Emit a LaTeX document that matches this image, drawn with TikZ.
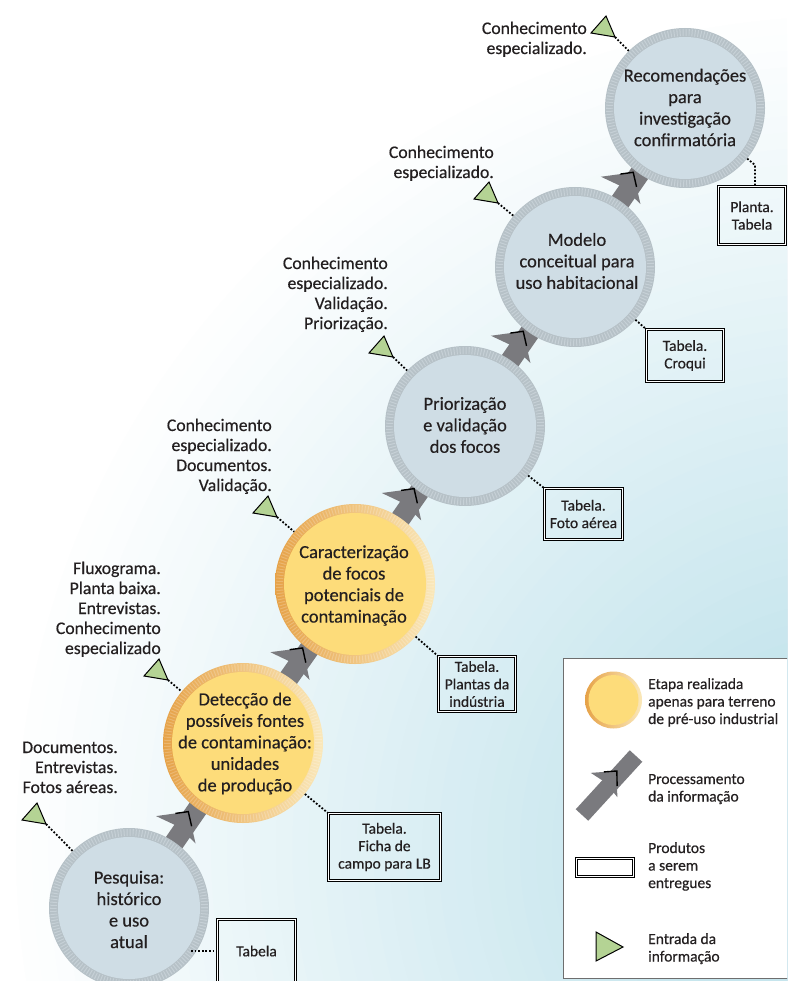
\documentclass[tikz,border=0pt]{standalone}
\usepackage{fontspec}
\setmainfont{Carlito}[FakeBold=0.4]
\usetikzlibrary{calc}
\definecolor{bgblue}{RGB}{198,229,237}
\definecolor{ringgray}{RGB}{182,193,199}
\definecolor{ringgrayl}{RGB}{198,208,214}
\definecolor{fillgray}{RGB}{207,221,229}
\definecolor{fillyel}{RGB}{253,220,122}
\definecolor{ringor}{RGB}{230,162,72}
\definecolor{ringyl}{RGB}{250,232,186}
\definecolor{arrgray}{RGB}{122,122,126}
\definecolor{trigreen}{RGB}{180,211,148}
\definecolor{txt}{RGB}{35,31,32}
\definecolor{leggray}{RGB}{110,110,110}
\newcommand\graydisc[1]{%
  \fill[ringgray] (#1) circle (80pt);
  \draw[ringgrayl, line width=7pt, dash pattern=on 1pt off 2pt] (#1) circle (75.5pt);
  \fill[fillgray] (#1) circle (71pt);}
\newcommand\yeldisc[1]{%
  \shade[left color=ringor, right color=ringyl] (#1) circle (80pt);
  \draw[white, opacity=0.2, line width=7pt, dash pattern=on 1pt off 2pt] (#1) circle (75.5pt);
  \fill[fillyel] (#1) circle (71pt);}
% #1 from, #2 to, #3 tip dist, #4 barb dist, #5 notch dist, #6 half width, #7 offset (numbers, pt)
\newcommand\procarrow[7]{%
  \pgfmathanglebetweenpoints{\pgfpointanchor{#1}{center}}{\pgfpointanchor{#2}{center}}%
  \let\paang\pgfmathresult
  \pgfmathsetmacro\pal{sqrt((#3-#4)^2+(#6)^2)}%
  \pgfmathsetmacro\pdu{(#3-#4)/\pal}%
  \pgfmathsetmacro\pdv{#6/\pal}%
  \begin{scope}[shift={(#1)}, rotate=\paang]
    \fill[arrgray] (#3pt,#7pt) -- ({#4*1pt},{(#7+#6)*1pt}) -- (#5pt,#7pt) -- ({#4*1pt},{(#7-#6)*1pt}) -- cycle;
    \draw[black, line width=1.4pt, line join=miter] ({(#3-13*\pdu)*1pt},{(#7+13*\pdv)*1pt}) -- (#3pt,#7pt) -- ({(#3-15*\pdu)*1pt},{(#7-15*\pdv)*1pt});
  \end{scope}}
\begin{document}
\begin{tikzpicture}[x=1pt,y=-1pt,
  lbl/.style={align=right, anchor=base east, inner sep=0pt, font=\fontsize{17.7}{20}\selectfont, text=txt},
  ctxt/.style={align=center, inner sep=0pt, font=\fontsize{18.5}{21.5}\selectfont, text=txt},
  cnode/.style={circle, minimum size=160pt, inner sep=0pt},
  prod/.style={draw=black, line width=0.7pt, double=white, double distance=1.6pt, align=center, inner sep=0pt, font=\fontsize{15.5}{17.5}\selectfont, text=txt},
  legtxt/.style={align=left, anchor=base west, inner sep=0pt, font=\fontsize{15.5}{17.5}\selectfont, text=txt},
  dotline/.style={line width=1.8pt, dash pattern=on 1.8pt off 1.8pt, draw=black},
  tri/.style={fill=trigreen, draw=black, line width=1pt, line join=miter},
  band/.style={line width=20pt, draw=arrgray},
]
\useasboundingbox (0,0) rectangle (787,981);
\clip (0,0) rectangle (787,981);
\fill[white] (0,0) rectangle (787,981);
\coordinate (bgc) at (850,850);
\foreach \i in {0,...,40} {
  \pgfmathsetmacro\rr{850-16.25*\i}
  \pgfmathsetmacro\pp{2.5*\i}
  \fill[bgblue!\pp!white] (bgc) circle (\rr pt);
}

% circle centres
\coordinate (p1) at (129,908);
\coordinate (p2) at (243,743);
\coordinate (p3) at (355,584);
\coordinate (p4) at (465,426);
\coordinate (p5) at (575,267);
\coordinate (p6) at (685,108);

% processing bands
\foreach \a/\b in {p1/p2,p2/p3,p3/p4,p4/p5,p5/p6} \draw[band] (\a) -- (\b);

% discs
\graydisc{p1}
\yeldisc{p2}
\yeldisc{p3}
\graydisc{p4}
\graydisc{p5}
\graydisc{p6}
\foreach \i in {1,...,6} \node[cnode] (c\i) at (p\i) {};

% arrow heads
\procarrow{p1}{p2}{113}{91}{95}{24}{6}
\procarrow{p2}{p3}{112}{90}{94}{24}{6}
\procarrow{p3}{p4}{112}{90}{94}{24}{6}
\procarrow{p4}{p5}{111}{89}{93}{24}{6}
\procarrow{p5}{p6}{111}{89}{93}{24}{6}

% circle texts
\node[ctxt] (c1t) at (129,909.5) {Pesquisa:\\histórico\\e uso\\atual};
\node[ctxt] (c2t) at (245,743.5) {Detecção de\\possíveis fontes\\de contaminação:\\unidades\\de produção};
\node[ctxt] (c3t) at (354,585.5) {Caracterização\\de focos\\potenciais de\\contaminação};
\node[ctxt] (c4t) at (465,425) {Priorização\\e validação\\dos focos};
\node[ctxt] (c5t) at (577,261) {Modelo\\conceitual para\\uso habitacional};
\node[ctxt] (c6t) at (685,107.5) {Recomendações\\para\\investigação\\confirmatória};

% input triangles
\coordinate (t1) at (46,824);
\coordinate (t2) at (168,680);
\coordinate (t3) at (277,517);
\coordinate (t4) at (393,357);
\coordinate (t5) at (498,203);
\coordinate (t6) at (615,37);
\foreach \i in {1,...,6} {
  \draw[dotline] (t\i) -- (c\i);
  \draw[tri] (t\i) -- ++(-24,-4) -- ++(15,-17) -- cycle;
}

% input labels (anchor = baseline of last line)
\node[lbl] (l6) at (587,54) {Conhecimento\\especializado.};
\node[lbl] (l5) at (494,178) {Conhecimento\\especializado.};
\node[lbl] (l4) at (388,329) {Conhecimento\\especializado.\\Validação.\\Priorização.};
\node[lbl] (l3) at (272,491) {Conhecimento\\especializado.\\Documentos.\\Validação.};
\node[lbl] (l2) at (161,654) {Fluxograma.\\Planta baixa.\\Entrevistas.\\Conhecimento\\especializado};
\node[lbl] (l1) at (118,793) {Documentos.\\Entrevistas.\\Fotos aéreas.};

% product boxes
\node[prod, minimum width=78pt, minimum height=63pt] (b1) at (256.5,951) {Tabela};
\node[prod, minimum width=112pt, minimum height=67pt] (b2) at (384.5,847) {Tabela.\\Ficha de\\campo para LB};
\node[prod, minimum width=77pt, minimum height=55pt] (b3) at (477,684) {Tabela.\\Plantas da\\indústria};
\node[prod, minimum width=78pt, minimum height=51pt] (b4) at (583.5,514) {Tabela.\\Foto aérea};
\node[prod, minimum width=77pt, minimum height=52pt] (b5) at (685,355.5) {Tabela.\\Croqui};
\node[prod, minimum width=67pt, minimum height=58pt] (b6) at (752,215.5) {Planta.\\Tabela};

\coordinate (k1) at (191,951);
\draw[dotline] (k1) -- (b1.west);
\draw[dotline] (c2) -- (b2.north west);
\draw[dotline] (c3) -- (b3.north west);
\draw[dotline] (c4) -- (b4.north west);
\draw[dotline] (c5) -- (b5.north west);
\coordinate (k6) at (755,165);
\draw[dotline] (c6) -- (k6) -- (k6 |- b6.north);

% legend
\draw[leggray, line width=1pt, fill=white] (563,658) rectangle (800,978);
\coordinate (lc) at (613.5,700);
\shade[left color=ringor, right color=ringyl] (lc) circle (28.5pt);
\fill[fillyel] (lc) circle (25pt);
\coordinate (la) at (582,815);
\coordinate (lb) at (636,756);
\draw[arrgray, line width=17pt] (la) -- (lb);
\procarrow{la}{lb}{56}{37}{40}{18}{4}
\node[prod, minimum width=57pt, minimum height=18pt] (lbox) at (605,867.5) {};
\draw[tri] (596,932) -- (623,947) -- (596,961) -- cycle;
\node[legtxt] (lt1) at (648,724) {Etapa realizada\\apenas para terreno\\de pré-uso industrial};
\node[legtxt] (lt2) at (648,801.5) {Processamento\\da informação};
\node[legtxt] (lt3) at (648,888) {Produtos\\a serem\\entregues};
\node[legtxt] (lt4) at (648,961.5) {Entrada da\\informação};
\end{tikzpicture}
\end{document}
